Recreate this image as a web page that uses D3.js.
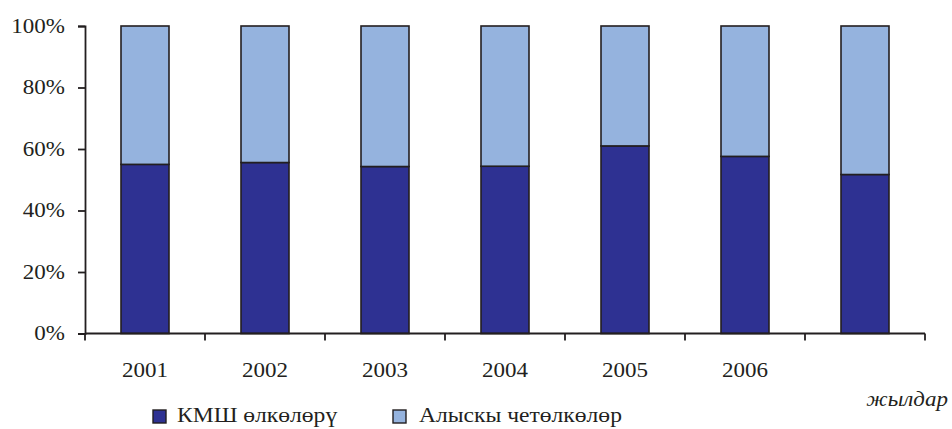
<!DOCTYPE html>
<html><head><meta charset="utf-8">
<script src="https://cdn.jsdelivr.net/npm/d3@7"></script>
<style>
body{margin:0;background:#fff}
svg text{font-family:"Liberation Serif","Times New Roman",serif;fill:#231F20}
.sx{transform-box:fill-box;transform:scaleX(1.15)}
.sx-end{transform-origin:right center}
.sx-mid{transform-origin:center center}
.sx-start{transform-origin:left center}
</style></head>
<body>
<svg id="c" width="952" height="429"></svg>
<script>
const categories = ["2001","2002","2003","2004","2005","2006",""];
const cisShare = [55.0, 55.6, 54.3, 54.4, 61.0, 57.6, 51.7];
const farShare = cisShare.map(v => 100 - v);
const seriesNames = ["КМШ өлкөлөрү", "Алыскы четөлкөлөр"];
const yTicks = [0, 20, 40, 60, 80, 100];
const axisTitle = "жылдар";

(function () {
const colors = ["#2E3192", "#95B3DE"];
const stroke = "#231F20";
const svg = d3.select("#c");
const mLeft = 85, mRight = 925, mTop = 26, mBottom = 333.5;

const x = d3.scaleBand().domain(d3.range(categories.length)).range([mLeft, mRight]).paddingInner(0.6).paddingOuter(0.3);
const y = d3.scaleLinear().domain([0, 100]).range([mBottom, mTop]);

const rows = categories.map((c, i) => ({i, cis: cisShare[i], far: farShare[i]}));
const stack = d3.stack().keys(["cis", "far"])(rows);

stack.forEach((layer, k) => {
  svg.append("g").selectAll("rect").data(layer).join("rect")
    .attr("x", d => x(d.data.i))
    .attr("width", x.bandwidth())
    .attr("y", d => y(d[1]))
    .attr("height", d => y(d[0]) - y(d[1]))
    .attr("fill", colors[k])
    .attr("stroke", stroke).attr("stroke-width", 1.6);
});

// Y axis
const yAxis = svg.append("g").attr("transform", `translate(${mLeft},0)`)
  .call(d3.axisLeft(y).tickValues(yTicks).tickSize(7).tickPadding(13).tickFormat(d => d + "%"));
yAxis.select(".domain").attr("stroke", stroke).attr("stroke-width", 1.8);
yAxis.selectAll(".tick line").attr("stroke", stroke).attr("stroke-width", 1.8);
yAxis.selectAll("text").attr("font-size", 20).attr("fill", stroke).attr("class", "sx sx-end")
  .attr("font-family", null);

// X axis
const gap = (x.step() - x.bandwidth()) / 2;
const bounds = categories.map((c, i) => x(i) - gap).concat([x(categories.length - 1) + x.bandwidth() + gap]);
const xg = svg.append("g");
xg.append("line").attr("x1", mLeft).attr("x2", mRight).attr("y1", mBottom).attr("y2", mBottom)
  .attr("stroke", stroke).attr("stroke-width", 1.8);
xg.selectAll("line.t").data(bounds).join("line").attr("class", "t")
  .attr("x1", d => d).attr("x2", d => d).attr("y1", mBottom).attr("y2", mBottom + 7)
  .attr("stroke", stroke).attr("stroke-width", 1.8);
xg.selectAll("text").data(categories).join("text")
  .attr("x", (d, i) => x(i) + x.bandwidth() / 2).attr("y", 377)
  .attr("text-anchor", "middle").attr("font-size", 20).attr("class", "sx sx-mid")
  .text(d => d);

svg.append("text").attr("x", 948).attr("y", 406).attr("text-anchor", "end")
  .attr("font-size", 20).attr("font-style", "italic").attr("class", "sx sx-end").text(axisTitle);

// Legend
const legX = [153, 393];
const lg = svg.append("g");
seriesNames.forEach((n, k) => {
  lg.append("rect").attr("x", legX[k]).attr("y", 410).attr("width", 13).attr("height", 13)
    .attr("fill", colors[k]).attr("stroke", stroke).attr("stroke-width", 1.4);
  lg.append("text").attr("x", legX[k] + 24 + k * 2).attr("y", 422).attr("font-size", 20.5)
    .attr("class", "sx sx-start").text(n);
});
})();
</script>
</body></html>
